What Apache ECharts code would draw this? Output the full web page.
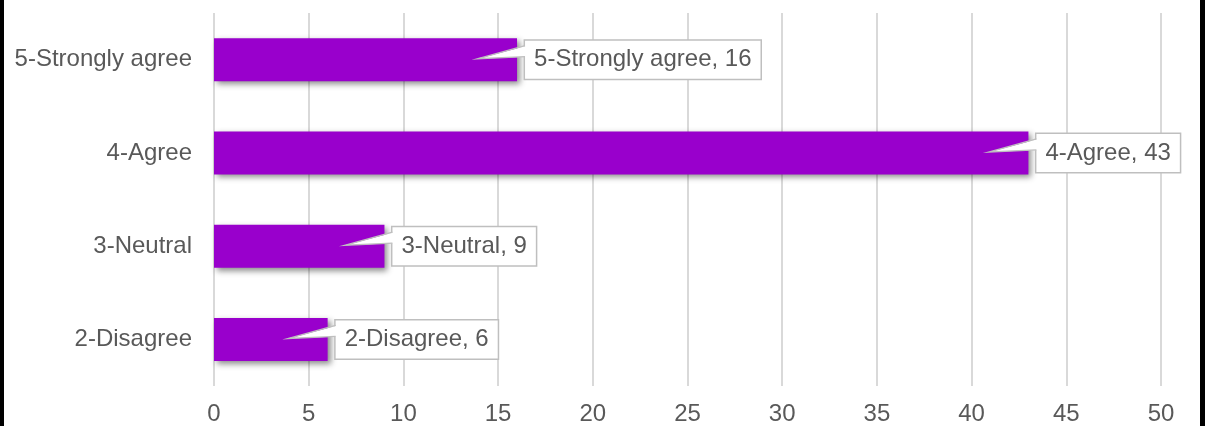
<!DOCTYPE html>
<html>
<head>
<meta charset="utf-8">
<script src="https://cdn.jsdelivr.net/npm/echarts@6/dist/echarts.min.js"></script>
<style>
  body { margin: 0; background: #fff; }
  #chart { width: 1205px; height: 426px; }
  .edge { position: absolute; top: 0; height: 426px; background: #000; }
</style>
</head>
<body>
<div id="chart"></div>
<div class="edge" style="left:0;width:4px"></div>
<div class="edge" style="left:1200px;width:5px"></div>
<script>
// dados do gráfico
const categorias = ['2-Disagree', '3-Neutral', '4-Agree', '5-Strongly agree'];
const respostas = [6, 9, 43, 16];
const ticksX = [0, 5, 10, 15, 20, 25, 30, 35, 40, 45, 50];

const corTexto = '#595959';
const corBorda = '#bfbfbf';
const fonte = '"Liberation Sans", Arial, sans-serif';

var chart = echarts.init(document.getElementById('chart'), null, { renderer: 'canvas' });

// desenha a caixa do rótulo com a "ponta" apontando para dentro da barra
function desenharRotulo(params, api) {
    const valor = api.value(0);
    const idx = api.value(1);
    const fim = api.coord([valor, idx]);
    const cy = fim[1];
    const caixaX = fim[0] + 8;
    const ponta = [fim[0] - 39, cy - 1];
    return {
        type: 'group',
        children: [
            {
                type: 'text',
                style: {
                    text: categorias[idx] + ', ' + valor,
                    x: caixaX,
                    y: cy,
                    align: 'left',
                    verticalAlign: 'middle',
                    font: '24px ' + fonte,
                    fill: corTexto,
                    backgroundColor: '#fff',
                    borderColor: corBorda,
                    borderWidth: 1.5,
                    padding: [6, 9, 6, 9],
                    lineHeight: 26
                }
            },
            {
                type: 'polygon',
                shape: { points: [ponta, [caixaX + 2, cy - 14], [caixaX + 2, cy - 3]] },
                style: { fill: '#fff' }
            },
            {
                type: 'polyline',
                shape: { points: [[caixaX, cy - 14], ponta, [caixaX, cy - 3]] },
                style: { stroke: corBorda, lineWidth: 1.5, fill: null }
            }
        ]
    };
}

var option = {
    animation: false,
    grid: { left: 214, right: 44, top: 13, bottom: 40 },
    xAxis: {
        type: 'value',
        min: 0,
        max: 50,
        interval: 5,
        axisLine: { show: false },
        axisTick: { show: false },
        axisLabel: {
            margin: 16,
            fontSize: 24,
            color: corTexto,
            fontFamily: fonte,
            formatter: function (v) { return ticksX.indexOf(v) >= 0 ? String(v) : ''; }
        },
        splitLine: { lineStyle: { color: '#d9d9d9', width: 2 } }
    },
    yAxis: {
        type: 'category',
        data: categorias,
        axisLine: { show: false },
        axisTick: { show: false },
        axisLabel: {
            margin: 22,
            fontSize: 24,
            color: corTexto,
            fontFamily: fonte
        }
    },
    series: [
        {
            type: 'bar',
            data: respostas,
            barWidth: 43,
            itemStyle: {
                color: '#9900cc',
                shadowColor: 'rgba(0,0,0,0.45)',
                shadowBlur: 6,
                shadowOffsetX: 3,
                shadowOffsetY: 3
            }
        },
        {
            type: 'custom',
            renderItem: desenharRotulo,
            data: respostas.map(function (v, i) { return [v, i]; }),
            z: 5
        }
    ]
};

chart.setOption(option);
</script>
</body>
</html>
